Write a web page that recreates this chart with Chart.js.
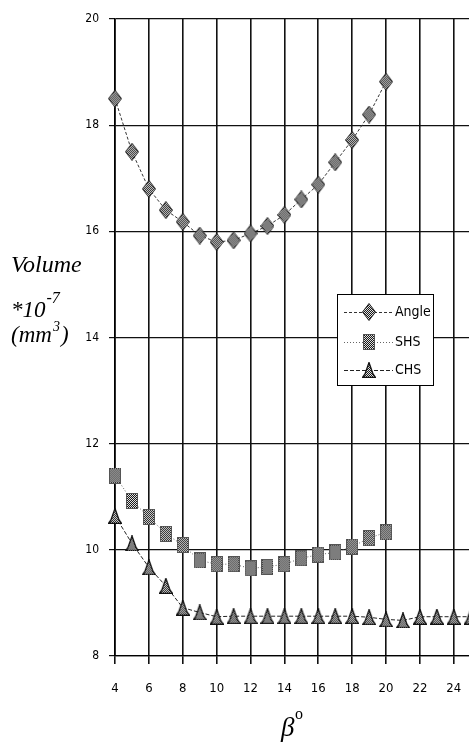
<!DOCTYPE html>
<html lang="en">
  <head>
    <meta charset="utf-8">
    <title>Volume vs beta</title>
    <script src="https://cdn.jsdelivr.net/npm/chart.js@4/dist/chart.umd.min.js"></script>
    <style>
      html, body { margin: 0; padding: 0; background: #fff; overflow: hidden; }
      #wrap { width: 469px; height: 743px; }
      canvas { display: block; }
    </style>
  </head>
  <body>
    <div id="wrap"><canvas id="volchart" width="469" height="743"></canvas></div>

  <script>
    // beta values (degrees)
    var betaShort = [4, 5, 6, 7, 8, 9, 10, 11, 12, 13, 14, 15, 16, 17, 18, 19, 20];
    var betaLong = [4, 5, 6, 7, 8, 9, 10, 11, 12, 13, 14, 15, 16, 17, 18, 19, 20, 21, 22, 23, 24, 25];
    // volume *10^-7 (mm^3)
    var angleVol = [18.5, 17.5, 16.8, 16.4, 16.18, 15.92, 15.8, 15.83, 15.96, 16.1, 16.31, 16.6, 16.88, 17.3, 17.72, 18.2, 18.82];
    var shsVol = [11.4, 10.92, 10.62, 10.3, 10.09, 9.8, 9.73, 9.73, 9.65, 9.68, 9.73, 9.84, 9.91, 9.95, 10.06, 10.22, 10.33];
    var chsVol = [10.64, 10.12, 9.67, 9.32, 8.91, 8.82, 8.74, 8.75, 8.75, 8.75, 8.75, 8.75, 8.75, 8.75, 8.75, 8.73, 8.69, 8.67, 8.74, 8.74, 8.74, 8.74];
    var seriesNames = ["Angle", "SHS", "CHS"];
    var xTicks = [4, 6, 8, 10, 12, 14, 16, 18, 20, 22, 24];
    var yTicks = [8, 10, 12, 14, 16, 18, 20];

    var tickFont = "'DejaVu Sans Condensed', 'Liberation Sans Narrow', sans-serif";
    var serif = "'Liberation Serif', 'DejaVu Serif', serif";

    function pairs(xs, ys) {
      var out = [];
      for (i = 0; i < ys.length; i++) out.push({x: xs[i], y: ys[i]});
      return out;
    }

    // little checker pattern for the markers
    function checker(ctx) {
      var c = document.createElement("canvas");
      c.width = 2; c.height = 2;
      var p = c.getContext("2d");
      p.fillStyle = "#e0e0e0"; p.fillRect(0, 0, 2, 2);
      p.fillStyle = "#1a1a1a"; p.fillRect(0, 0, 1, 1); p.fillRect(1, 1, 1, 1);
      return ctx.createPattern(c, "repeat");
    }

    function diamondImg() {
      var c = document.createElement("canvas");
      c.width = 14; c.height = 18;
      var g = c.getContext("2d");
      g.beginPath();
      g.moveTo(7, 0.5); g.lineTo(13.5, 9); g.lineTo(7, 17.5); g.lineTo(0.5, 9); g.closePath();
      g.fillStyle = checker(g); g.fill();
      g.strokeStyle = "#222"; g.lineWidth = 1; g.stroke();
      return c;
    }

    function squareImg() {
      var c = document.createElement("canvas");
      c.width = 12; c.height = 16;
      var g = c.getContext("2d");
      g.fillStyle = checker(g); g.fillRect(0, 0, 12, 16);
      g.strokeStyle = "#555"; g.lineWidth = 1; g.strokeRect(0.5, 0.5, 11, 15);
      return c;
    }

    function triangleImg() {
      var c = document.createElement("canvas");
      c.width = 14; c.height = 16;
      var g = c.getContext("2d");
      g.beginPath();
      g.moveTo(7, 0.5); g.lineTo(11, 12); g.lineTo(13.5, 15.5); g.lineTo(0.5, 15.5); g.lineTo(3, 12); g.closePath();
      g.fillStyle = checker(g); g.fill();
      g.strokeStyle = "#111"; g.lineWidth = 1.3; g.stroke();
      return c;
    }

    var markers = [diamondImg(), squareImg(), triangleImg()];
    var lineColors = ["#333", "#666", "#222"];
    var dashes = [[3, 2], [1, 2], [4, 2]];

    // custom texts: y title, x title and legend box
    var extras = {
      id: "extras",
      afterDraw: function(chart) {
        var ctx = chart.ctx;
        ctx.save();
        ctx.fillStyle = "#000";
        ctx.textBaseline = "alphabetic";
        ctx.textAlign = "left";
        // y title
        ctx.font = "italic 24px " + serif;
        ctx.fillText("Volume", 11, 272);
        ctx.font = "italic 23px " + serif;
        ctx.fillText("*10", 11, 317);
        var w = ctx.measureText("*10").width;
        ctx.font = "italic 16px " + serif;
        ctx.fillText("-7", 11 + w + 1, 303);
        ctx.font = "italic 23px " + serif;
        ctx.fillText("(mm", 11, 342);
        w = ctx.measureText("(mm").width;
        ctx.font = "italic 14px " + serif;
        ctx.fillText("3", 11 + w + 1, 331);
        var w2 = ctx.measureText("3").width;
        ctx.font = "italic 23px " + serif;
        ctx.fillText(")", 11 + w + w2 + 2, 342);
        // x title
        ctx.font = "italic 27px " + serif;
        ctx.fillText("\u03b2", 281, 736);
        ctx.font = "16px " + serif;
        ctx.fillText("o", 295, 719);

        // legend
        var bx = 337, by = 294, bw = 96, bh = 91;
        ctx.fillStyle = "#fff";
        ctx.fillRect(bx, by, bw, bh);
        ctx.strokeStyle = "#000";
        ctx.lineWidth = 1;
        ctx.strokeRect(bx + 0.5, by + 0.5, bw, bh);
        var rows = [312, 342, 370];
        for (var k = 0; k < 3; k++) {
          var ds = chart.data.datasets[k];
          ctx.strokeStyle = ds.borderColor;
          ctx.setLineDash(ds.borderDash);
          ctx.beginPath();
          ctx.moveTo(344, rows[k] + 0.5);
          ctx.lineTo(393, rows[k] + 0.5);
          ctx.stroke();
          ctx.setLineDash([]);
          var img = markers[k];
          ctx.drawImage(img, 369 - img.width / 2, rows[k] - img.height / 2);
          ctx.fillStyle = "#000";
          ctx.font = "14px " + tickFont;
          ctx.textBaseline = "middle";
          ctx.fillText(seriesNames[k], 395, rows[k]);
        }
        ctx.restore();
      }
    };

    var sets = [
      pairs(betaShort, angleVol),
      pairs(betaShort, shsVol),
      pairs(betaLong, chsVol)
    ];
    var datasets = [];
    for (var k = 0; k < 3; k++) {
      datasets.push({
        label: seriesNames[k],
        data: sets[k],
        showLine: true,
        borderColor: lineColors[k],
        borderWidth: 1,
        borderDash: dashes[k],
        pointStyle: markers[k],
        pointRadius: 7,
        pointHoverRadius: 7,
        clip: false,
        order: 3 - k
      });
    }

    new Chart(document.getElementById("volchart"), {
      type: "scatter",
      data: { datasets: datasets },
      options: {
        responsive: false,
        animation: false,
        // autoPadding off: otherwise the marker size eats 8px on the right
        layout: { autoPadding: false, padding: { top: 19, left: 0, right: 0, bottom: 0 } },
        plugins: {
          legend: { display: false },
          tooltip: { enabled: false }
        },
        scales: {
          x: {
            type: "linear",
            min: 4,
            max: 24.9,
            afterBuildTicks: function(scale) {
              scale.ticks = xTicks.map(function(v) { return {value: v}; });
            },
            afterFit: function(scale) { scale.height = 87; },
            grid: { color: "#111", lineWidth: 1.6, tickLength: 8, drawTicks: true },
            border: { display: true, color: "#000", width: 1.2 },
            ticks: {
              color: "#000",
              padding: 1,
              maxRotation: 0,
              // empty first line pushes the number down like the original
              callback: function(v) { return ["", String(v)]; },
              font: { family: tickFont, size: 13 }
            }
          },
          y: {
            type: "linear",
            min: 8,
            max: 20,
            afterBuildTicks: function(scale) {
              scale.ticks = yTicks.map(function(v) { return {value: v}; });
            },
            afterFit: function(scale) { scale.width = 115; },
            grid: { color: "#111", lineWidth: 1.2, tickLength: 6, drawTicks: true },
            border: { display: true, color: "#000", width: 1.6 },
            ticks: {
              color: "#000",
              padding: 10,
              font: { family: tickFont, size: 12 }
            }
          }
        }
      },
      plugins: [extras]
    });
  </script>
  </body>
</html>
